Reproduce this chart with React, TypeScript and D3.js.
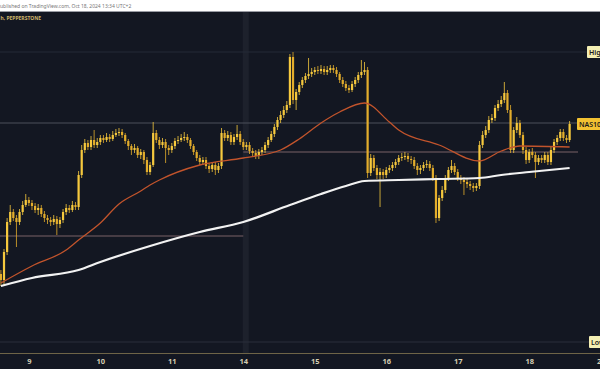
import { useEffect, useRef } from 'react';
import * as d3 from 'd3';

// trading days shown (Oct 2024), hourly bars, 23 per full session
const days = [8, 9, 10, 11, 14, 15, 16, 17, 18];
const tickLabels = ['9', '10', '11', '14', '15', '16', '17', '18', '21'];

const firstOpen = 19912;
const closes = [
  19900, 19956, 20016, 20036, 20024, 20016, 20036, 20050, 20060, 20054,
  20048, 20040, 20044, 20032, 20024, 20020, 20016, 20022, 20012, 20020,
  20036, 20044, 20040, 20050, 20046, 20110, 20160, 20174, 20166, 20180,
  20170, 20176, 20184, 20180, 20186, 20182, 20190, 20194, 20196, 20190,
  20178, 20168, 20160, 20164, 20150, 20156, 20140, 20116, 20130, 20194,
  20180, 20170, 20176, 20164, 20160, 20168, 20178, 20180, 20184, 20186,
  20180, 20168, 20156, 20144, 20136, 20140, 20128, 20122, 20130, 20120,
  20128, 20194, 20184, 20190, 20176, 20186, 20192, 20176, 20166, 20170,
  20158, 20154, 20148, 20156, 20160, 20170, 20180, 20192, 20206, 20220,
  20230, 20240, 20250, 20346, 20260, 20276, 20290, 20300, 20308, 20312,
  20316, 20320, 20318, 20322, 20316, 20320, 20324, 20320, 20312, 20300,
  20292, 20284, 20280, 20292, 20300, 20310, 20316, 20320, 20114, 20144,
  20124, 20110, 20116, 20110, 20120, 20124, 20130, 20136, 20144, 20146,
  20148, 20142, 20140, 20128, 20120, 20124, 20130, 20132, 20124, 20104,
  20024, 20064, 20080, 20104, 20120, 20128, 20116, 20104, 20100, 20096,
  20092, 20088, 20084, 20088, 20170, 20190, 20200, 20220, 20224, 20244,
  20252, 20260, 20274, 20240, 20160, 20200, 20214, 20190, 20160, 20140,
  20156, 20150, 20136, 20144, 20140, 20150, 20136, 20160, 20176, 20184,
  20196, 20184, 20180, 20212
];
const highs = [
  19920, 19962, 20024, 20050, 20042, 20030, 20042, 20058, 20072, 20066,
  20060, 20054, 20052, 20050, 20038, 20030, 20026, 20030, 20028, 20026,
  20042, 20052, 20050, 20058, 20056, 20118, 20170, 20182, 20180, 20188,
  20200, 20184, 20190, 20190, 20194, 20192, 20198, 20202, 20204, 20202,
  20194, 20182, 20172, 20172, 20168, 20162, 20160, 20146, 20136, 20216,
  20200, 20186, 20184, 20182, 20170, 20174, 20184, 20188, 20192, 20196,
  20192, 20184, 20172, 20160, 20150, 20146, 20146, 20134, 20136, 20136,
  20134, 20204, 20200, 20198, 20196, 20192, 20210, 20198, 20182, 20176,
  20176, 20164, 20160, 20162, 20166, 20176, 20186, 20198, 20212, 20226,
  20238, 20248, 20258, 20352, 20356, 20282, 20296, 20306, 20314, 20344,
  20324, 20326, 20328, 20330, 20328, 20328, 20330, 20330, 20326, 20316,
  20306, 20298, 20290, 20298, 20306, 20316, 20340, 20336, 20326, 20152,
  20150, 20130, 20124, 20122, 20126, 20130, 20136, 20142, 20150, 20154,
  20156, 20154, 20148, 20146, 20134, 20130, 20136, 20140, 20138, 20130,
  20110, 20070, 20088, 20110, 20126, 20140, 20134, 20122, 20110, 20106,
  20102, 20098, 20094, 20094, 20178, 20198, 20208, 20228, 20232, 20250,
  20260, 20268, 20296, 20280, 20250, 20206, 20226, 20220, 20196, 20166,
  20162, 20164, 20156, 20150, 20150, 20156, 20156, 20166, 20182, 20190,
  20202, 20202, 20190, 20218
];
const lows = [
  19888, 19888, 19950, 20010, 20018, 19966, 20010, 20030, 20046, 20048,
  20040, 20034, 20030, 20026, 20016, 20012, 20008, 20010, 19990, 20004,
  20014, 20030, 20034, 20036, 20040, 20040, 20104, 20154, 20160, 20160,
  20164, 20164, 20170, 20174, 20176, 20176, 20178, 20186, 20188, 20184,
  20172, 20160, 20150, 20154, 20144, 20142, 20132, 20110, 20110, 20126,
  20174, 20162, 20164, 20134, 20150, 20154, 20162, 20172, 20176, 20178,
  20174, 20162, 20150, 20138, 20130, 20130, 20122, 20114, 20116, 20110,
  20114, 20122, 20178, 20178, 20170, 20170, 20180, 20170, 20160, 20160,
  20152, 20146, 20142, 20142, 20150, 20154, 20164, 20176, 20186, 20200,
  20214, 20224, 20234, 20244, 20252, 20240, 20270, 20284, 20294, 20302,
  20306, 20310, 20312, 20312, 20310, 20310, 20314, 20314, 20306, 20294,
  20286, 20278, 20274, 20276, 20286, 20294, 20304, 20310, 20104, 20108,
  20118, 20102, 20046, 20102, 20104, 20114, 20118, 20124, 20130, 20138,
  20140, 20136, 20132, 20122, 20110, 20112, 20118, 20124, 20118, 20098,
  20014, 20018, 20058, 20074, 20098, 20114, 20110, 20098, 20092, 20070,
  20084, 20080, 20076, 20078, 20082, 20164, 20184, 20194, 20214, 20218,
  20238, 20246, 20254, 20234, 20154, 20154, 20194, 20184, 20152, 20132,
  20134, 20144, 20104, 20130, 20134, 20134, 20130, 20130, 20154, 20170,
  20178, 20178, 20174, 20176
];

// moving averages read at bar indices
const maSlowIdx = [0, 10, 25, 32, 48, 64, 78, 93, 103, 111, 117, 128, 141, 154, 161, 170, 183];
const maSlowVal = [19888, 19904, 19920, 19936, 19968, 19996, 20016, 20050, 20072, 20088, 20098, 20100, 20102, 20104, 20110, 20116, 20124];
const maFastIdx = [0, 10, 21, 25, 32, 38, 45, 48, 51, 64, 78, 90, 96, 103, 109, 117, 125, 128, 141, 154, 161, 167, 183];
const maFastVal = [19894, 19928, 19960, 19980, 20014, 20052, 20078, 20090, 20100, 20130, 20144, 20160, 20182, 20214, 20236, 20254, 20216, 20200, 20170, 20138, 20158, 20168, 20166];

const highLevel = 20356;
const lowLevel = 19776;
const supportLevel = 19988;
const pivotLevel = 20156;

const W = 600;
const H = 385;

export default function App() {
  const svgRef = useRef<SVGSVGElement>(null);

  useEffect(() => {
    if (!svgRef.current) return;
    const svg = d3.select(svgRef.current);
    svg.selectAll('*').remove();

    // bar timeline
    const bars: { day: number; hour: number }[] = [];
    days.forEach((d, di) => {
      const h0 = di === 0 ? 14 : 0;
      const h1 = di === days.length - 1 ? 13 : 22;
      for (let h = h0; h <= h1; h++) bars.push({ day: d, hour: h });
    });

    const data = closes.map((c, i) => ({
      open: i === 0 ? firstOpen : closes[i - 1],
      close: c,
      high: highs[i],
      low: lows[i],
    }));

    const x = d3.scaleLinear().domain([0, closes.length - 1]).range([0.9, 569.6]);
    const y = d3.scaleLinear().domain([19756, 20436]).range([352, 12]);

    const plotTop = 12;
    const plotBottom = 353;

    svg.append('rect').attr('width', W).attr('height', H).attr('fill', '#ffffff');
    svg.append('rect').attr('x', 0).attr('y', plotTop).attr('width', W).attr('height', 369 - plotTop).attr('fill', '#131722');
    svg.append('line').attr('x1', 0).attr('x2', W).attr('y1', 11.5).attr('y2', 11.5).attr('stroke', '#9a9ca4').attr('stroke-width', 1);

    svg.append('text')
      .attr('x', -3).attr('y', 8)
      .attr('font-family', 'Noto Sans, sans-serif').attr('font-size', 5)
      .attr('fill', '#777')
      .text('Published on TradingView.com, Oct 18, 2024 13:34 UTC+2');

    // weekend separator
    const dayStarts = bars.map((b, i) => (b.hour === 0 ? i : -1)).filter(i => i >= 0);
    const sep = dayStarts[3];
    svg.append('rect')
      .attr('x', x(sep) - 0.5).attr('y', plotTop).attr('width', 6).attr('height', plotBottom - plotTop)
      .attr('fill', '#1d212c');

    // level lines
    svg.append('line').attr('x1', 0).attr('x2', W).attr('y1', y(highLevel)).attr('y2', y(highLevel))
      .attr('stroke', '#252a36').attr('stroke-width', 1);
    svg.append('line').attr('x1', 0).attr('x2', W).attr('y1', y(lowLevel)).attr('y2', y(lowLevel))
      .attr('stroke', '#2a2e3a').attr('stroke-width', 1);
    svg.append('line').attr('x1', 0).attr('x2', x(sep)).attr('y1', y(supportLevel)).attr('y2', y(supportLevel))
      .attr('stroke', '#7a6266').attr('stroke-width', 1);
    svg.append('line').attr('x1', x(sep)).attr('x2', 578).attr('y1', y(pivotLevel)).attr('y2', y(pivotLevel))
      .attr('stroke', '#7a6266').attr('stroke-width', 1);
    const last = closes[closes.length - 1];
    svg.append('line').attr('x1', 0).attr('x2', 578).attr('y1', y(last) - 1).attr('y2', y(last) - 1)
      .attr('stroke', '#4d505b').attr('stroke-width', 1);

    // candles
    const g = svg.append('g');
    const bw = 2.2;
    data.forEach((d, i) => {
      const up = d.close >= d.open;
      const col = up ? '#f6c93e' : '#e3ad2c';
      g.append('line')
        .attr('x1', x(i)).attr('x2', x(i))
        .attr('y1', y(d.high)).attr('y2', y(d.low))
        .attr('stroke', col).attr('stroke-width', 0.8);
      const top = y(Math.max(d.open, d.close));
      const bot = y(Math.min(d.open, d.close));
      g.append('rect')
        .attr('x', x(i) - bw / 2).attr('y', top)
        .attr('width', bw).attr('height', Math.max(0.8, bot - top))
        .attr('fill', col);
    });

    // moving averages
    const line = d3.line<number>()
      .x((_, k) => 0)
      .curve(d3.curveMonotoneX);
    const slow = d3.line<[number, number]>().x(p => x(p[0])).y(p => y(p[1])).curve(d3.curveMonotoneX);
    svg.append('path')
      .attr('d', slow(maFastIdx.map((k, j) => [k, maFastVal[j]] as [number, number])))
      .attr('fill', 'none').attr('stroke', '#c2542c').attr('stroke-width', 1.3);
    svg.append('path')
      .attr('d', slow(maSlowIdx.map((k, j) => [k, maSlowVal[j]] as [number, number])))
      .attr('fill', 'none').attr('stroke', '#f2f2f2').attr('stroke-width', 2.2);
    void line;

    // legend
    svg.append('text')
      .attr('x', 41).attr('y', 20).attr('text-anchor', 'end')
      .attr('font-family', 'Noto Sans, sans-serif').attr('font-size', 5).attr('font-weight', 700)
      .attr('fill', '#cdb46a')
      .text('NAS100, 1h, PEPPERSTONE');

    // right-side labels
    const tag = (label: string, val: number, x0: number, fill: string) => {
      const yc = y(val);
      svg.append('rect').attr('x', x0).attr('y', yc - 6).attr('width', 40).attr('height', 12)
        .attr('fill', fill).attr('rx', 1);
      svg.append('text').attr('x', x0 + 2).attr('y', yc + 2.5)
        .attr('font-family', 'Noto Sans, sans-serif').attr('font-size', 7).attr('font-weight', 600)
        .attr('fill', '#1a1a1a').text(label);
    };
    tag('High', highLevel, 587, '#f4efb3');
    tag('NAS100', last, 577, '#f3c232');
    tag('Low', lowLevel, 589, '#f4efb3');

    // time axis
    svg.append('line').attr('x1', 0).attr('x2', W).attr('y1', plotBottom + 0.5).attr('y2', plotBottom + 0.5)
      .attr('stroke', '#6e6447').attr('stroke-width', 1);
    const tickIdx = dayStarts.concat([closes.length + 9]);
    svg.append('g').selectAll('text')
      .data(tickLabels)
      .enter()
      .append('text')
      .attr('x', (_, k) => x(tickIdx[k]) + 0.5)
      .attr('y', 363.5)
      .attr('text-anchor', 'middle')
      .attr('font-family', 'Noto Sans, sans-serif').attr('font-size', 7.5).attr('font-weight', 700)
      .attr('fill', '#d4cdb2')
      .text(d => d);
  }, []);

  return (
    <svg ref={svgRef} width={W} height={H}
      style={{ position: 'absolute', left: 0, top: 0, display: 'block' }} />
  );
}
